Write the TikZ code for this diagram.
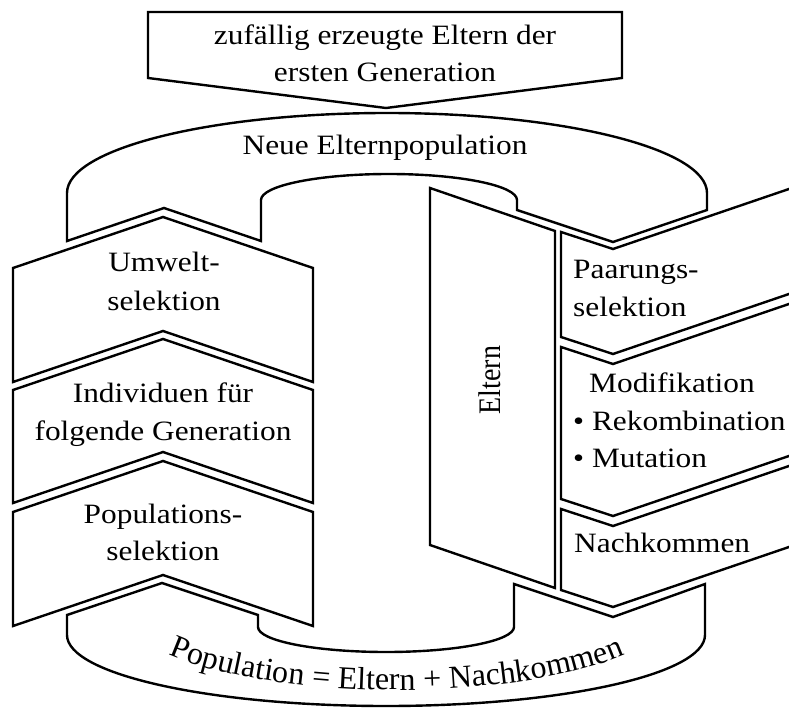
\documentclass[tikz,border=0pt]{standalone}
\usepackage{fontspec}
\setmainfont{Liberation Serif}
\usetikzlibrary{decorations.text}
\begin{document}
\begin{tikzpicture}[x=1pt,y=-1pt,
  outline/.style={draw=black, line width=2.4pt, fill=white, line join=miter},
  lbl/.style={font=\fontsize{28}{37.5}\selectfont, inner sep=0pt, xscale=1.12},
  lblc/.style={lbl, anchor=base},
  lbll/.style={lbl, anchor=base west},
]
\useasboundingbox (0,0) rectangle (789,711);
\fill[white] (0,0) rectangle (789,711);

\begin{scope}
\clip (0,0) rectangle (789,711);

% start arrow
\path[outline] (148,12) -- (622,12) -- (622,78) -- (386,108) -- (148,78) -- cycle;

% upper ring: new parent population
\path[outline] (67,241) -- (67,193)
  arc[start angle=180, end angle=0, x radius=320pt, y radius=80pt]
  -- (707,210) -- (613,242) -- (517,210) -- (517,200)
  arc[start angle=0, end angle=180, x radius=128pt, y radius=26pt]
  -- (261,241) -- (164,208) -- cycle;

% lower ring: population = parents + offspring
\path[outline] (67,615) -- (67,635)
  arc[start angle=180, end angle=360, x radius=319pt, y radius=71pt]
  -- (705,584) -- (613,617) -- (514,584) -- (514,627)
  arc[start angle=0, end angle=-180, x radius=128pt, y radius=25pt]
  -- (258,615) -- (162,583) -- cycle;

% left column, pointing upwards
\path[outline] (13,268) -- (163,217) -- (313,268) -- (313,382) -- (163,331) -- (13,382) -- cycle;
\path[outline] (13,390) -- (163,339) -- (313,390) -- (313,503) -- (163,452) -- (13,503) -- cycle;
\path[outline] (13,512) -- (163,461) -- (313,512) -- (313,626) -- (163,575) -- (13,626) -- cycle;

% parents panel
\path[outline] (430,188) -- (555,231) -- (555,588) -- (430,545) -- cycle;

% right column, pointing downwards
\path[outline] (561,232) -- (613,249) -- (830,175) -- (830,280) -- (613,354) -- (561,337) -- cycle;
\path[outline] (561,347) -- (613,364) -- (830,290) -- (830,442) -- (613,516) -- (561,499) -- cycle;
\path[outline] (561,509) -- (613,526) -- (830,452) -- (830,533) -- (613,607) -- (561,590) -- cycle;

% labels
\node[lblc] (start1) at (385,45) {zufällig erzeugte Eltern der};
\node[lblc] (start2) at (385,82) {ersten Generation};
\node[lblc] (neue) at (385,155) {Neue Elternpopulation};

\node[lblc] (umw1) at (164,272) {Umwelt-};
\node[lblc] (umw2) at (164,310) {selektion};
\node[lblc] (ind1) at (163,402) {Individuen für};
\node[lblc] (ind2) at (163,440) {folgende Generation};
\node[lblc] (pop1) at (163,523) {Populations-};
\node[lblc] (pop2) at (163,560) {selektion};

\node[lbll] (paar1) at (573,278) {Paarungs-};
\node[lbll] (paar2) at (573,316) {selektion};
\node[lbll] (mod1) at (589,392) {Modifikation};
\node[lbll] (mod2) at (573,430) {• Rekombination};
\node[lbll] (mod3) at (573,467) {• Mutation};
\node[lbll] (nach) at (574,552) {Nachkommen};

\node[lbl, anchor=base, rotate=90] (eltern) at (500,380) {Eltern};

% curved label along the lower ring
\path[decorate, decoration={text along path, text align=center,
    text={|\fontsize{32}{32}\selectfont|Population = Eltern + Nachkommen}}]
  plot[domain=0:1, samples=90, variable=\s]
    ({397+275*cos(170-160*\s)}, {610+80*sin(170-160*\s)});
\end{scope}
\end{tikzpicture}
\end{document}
